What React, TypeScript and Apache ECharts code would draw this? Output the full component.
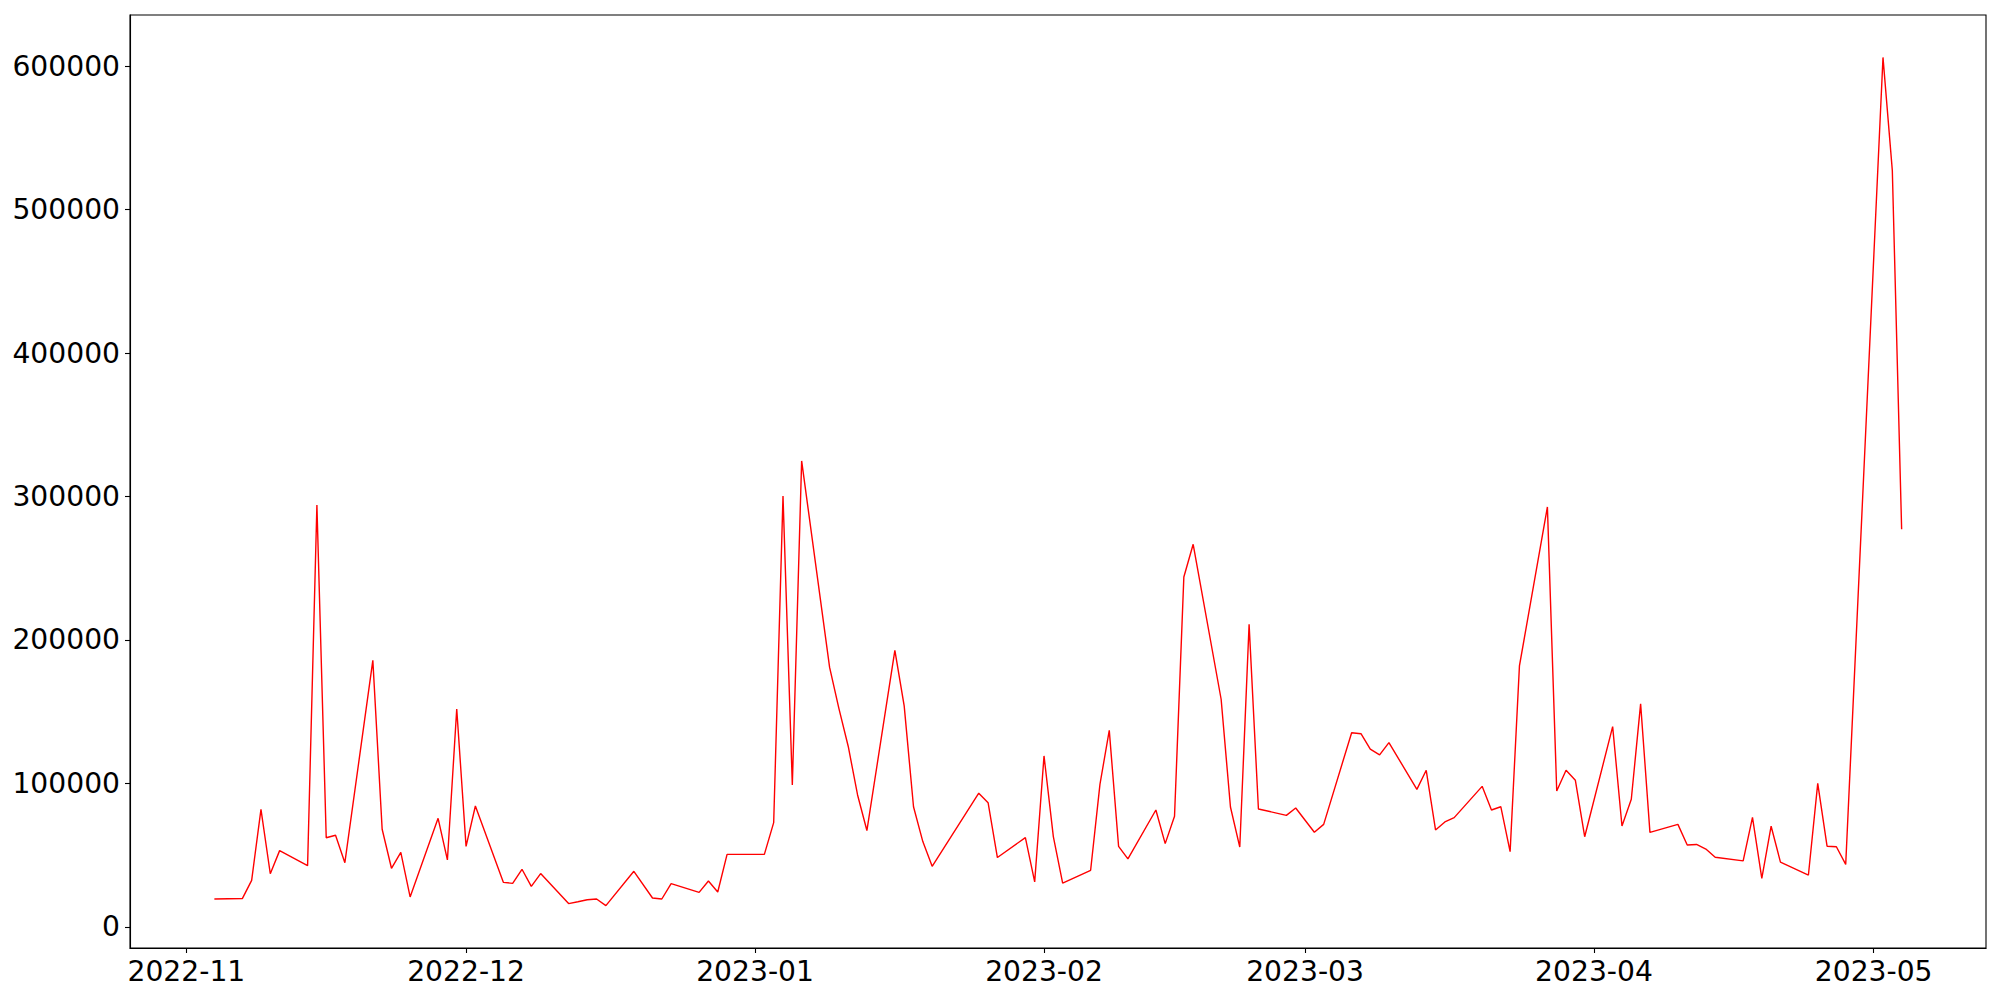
import React, { useEffect, useRef } from "react";
import * as echarts from "echarts";

const dates: string[] = [
  "2022-11-04", "2022-11-07", "2022-11-08", "2022-11-09", "2022-11-10", "2022-11-11",
  "2022-11-14", "2022-11-15", "2022-11-16", "2022-11-17", "2022-11-18",
  "2022-11-21", "2022-11-22", "2022-11-23", "2022-11-24", "2022-11-25",
  "2022-11-28", "2022-11-29", "2022-11-30", "2022-12-01", "2022-12-02",
  "2022-12-05", "2022-12-06", "2022-12-07", "2022-12-08", "2022-12-09",
  "2022-12-12", "2022-12-13", "2022-12-14", "2022-12-15", "2022-12-16",
  "2022-12-19", "2022-12-21", "2022-12-22", "2022-12-23",
  "2022-12-26", "2022-12-27", "2022-12-28", "2022-12-29",
  "2023-01-02", "2023-01-03", "2023-01-04", "2023-01-05", "2023-01-06",
  "2023-01-09", "2023-01-10", "2023-01-11", "2023-01-12", "2023-01-13",
  "2023-01-16", "2023-01-17", "2023-01-18", "2023-01-19", "2023-01-20",
  "2023-01-25", "2023-01-26", "2023-01-27", "2023-01-30", "2023-01-31",
  "2023-02-01", "2023-02-02", "2023-02-03",
  "2023-02-06", "2023-02-07", "2023-02-08", "2023-02-09", "2023-02-10",
  "2023-02-13", "2023-02-14", "2023-02-15", "2023-02-16", "2023-02-17",
  "2023-02-20", "2023-02-21", "2023-02-22", "2023-02-23", "2023-02-24",
  "2023-02-27", "2023-02-28", "2023-03-02", "2023-03-03",
  "2023-03-06", "2023-03-07", "2023-03-08", "2023-03-09", "2023-03-10",
  "2023-03-13", "2023-03-14", "2023-03-15", "2023-03-16", "2023-03-17",
  "2023-03-20", "2023-03-21", "2023-03-22", "2023-03-23", "2023-03-24",
  "2023-03-27", "2023-03-28", "2023-03-29", "2023-03-30", "2023-03-31",
  "2023-04-03", "2023-04-04", "2023-04-05", "2023-04-06", "2023-04-07",
  "2023-04-10", "2023-04-11", "2023-04-12", "2023-04-13", "2023-04-14",
  "2023-04-17", "2023-04-18", "2023-04-19", "2023-04-20", "2023-04-21",
  "2023-04-24", "2023-04-25", "2023-04-26", "2023-04-27", "2023-04-28",
  "2023-05-02", "2023-05-03", "2023-05-04",
];

const values: number[] = [
  19500, 19800, 32500, 82000, 37100, 53200,
  42700, 294000, 62200, 63900, 44800,
  185800, 68100, 40900, 52000, 20900,
  75700, 46700, 151900, 56200, 84300,
  31100, 30400, 40200, 28300, 37200,
  16300, 17600, 19000, 19500, 14900,
  38800, 20200, 19500, 30200,
  24100, 32000, 24400, 50600,
  50600, 72700, 300300, 98900, 324800,
  180900, 152200, 125800, 92000, 67200,
  192700, 154100, 83800, 59500, 42300,
  93200, 86600, 48400, 62300, 31400,
  119200, 63000, 30600,
  39500, 99400, 137000, 56200, 47400,
  81500, 58100, 77100, 243900, 266700,
  158700, 83600, 55700, 210900, 82200,
  77800, 82900, 66000, 71500,
  135400, 134700, 124000, 119900, 128500,
  95900, 109200, 67600, 73200, 76200,
  98000, 81500, 83800, 52500, 181900,
  292700, 94800, 109200, 102200, 62900,
  139600, 70400, 89000, 155500, 65900,
  71500, 57100, 57500, 54300, 48600,
  46100, 76400, 33800, 70200, 45200,
  36200, 100100, 56300, 55900, 43600,
  606000, 527300, 277100,
];

const monthTicks: string[] = [
  "2022-11-01", "2022-12-01", "2023-01-01", "2023-02-01",
  "2023-03-01", "2023-04-01", "2023-05-01",
];

const yTicks: number[] = [0, 100000, 200000, 300000, 400000, 500000, 600000];

function toTs(s: string): number {
  const [y, m, d] = s.split("-").map(Number);
  return new Date(y, m - 1, d).getTime();
}

function fmtMonth(v: number): string {
  const d = new Date(v);
  const m = d.getMonth() + 1;
  return d.getFullYear() + "-" + (m < 10 ? "0" + m : "" + m);
}

export default function App() {
  const ref = useRef<HTMLDivElement>(null);

  useEffect(() => {
    if (!ref.current) return;
    const chart = echarts.init(ref.current, undefined, { renderer: "svg" });

    const ts = dates.map(toTs);
    const xMinD = Math.min(...ts);
    const xMaxD = Math.max(...ts);
    const xPad = (xMaxD - xMinD) * 0.05;
    const yMinD = Math.min(...values);
    const yMaxD = Math.max(...values);
    const yPad = (yMaxD - yMinD) * 0.05;

    const font = "DejaVu Sans";
    const fs = 28.2;
    const monthTs = monthTicks.map(toTs);

    chart.setOption({
      animation: false,
      backgroundColor: "#ffffff",
      grid: {
        left: 130,
        right: 14,
        top: 15,
        bottom: 52,
        show: true,
        borderColor: "#000000",
        borderWidth: 1.1,
        backgroundColor: "transparent",
        outerBoundsMode: "none",
        containLabel: false,
      },
      xAxis: {
        type: "value",
        min: xMinD - xPad,
        max: xMaxD + xPad,
        scale: true,
        axisLine: { show: true, onZero: false, lineStyle: { color: "#000000", width: 1.1 } },
        axisTick: {
          show: true,
          inside: false,
          length: 5,
          lineStyle: { color: "#000000", width: 1.1 },
          customValues: monthTs,
        },
        axisLabel: {
          show: true,
          margin: 9,
          color: "#000000",
          fontFamily: font,
          fontSize: fs,
          customValues: monthTs,
          formatter: (v: number) => fmtMonth(v),
          hideOverlap: false,
          showMinLabel: true,
          showMaxLabel: true,
        },
        splitLine: { show: false },
      },
      yAxis: {
        type: "value",
        min: yMinD - yPad,
        max: yMaxD + yPad,
        axisLine: { show: true, onZero: false, lineStyle: { color: "#000000", width: 1.1 } },
        axisTick: {
          show: true,
          inside: false,
          length: 5,
          lineStyle: { color: "#000000", width: 1.1 },
          customValues: yTicks,
        },
        axisLabel: {
          show: true,
          margin: 10,
          color: "#000000",
          fontFamily: font,
          fontSize: fs,
          customValues: yTicks,
          formatter: (v: number) => String(Math.round(v)),
        },
        splitLine: { show: false },
      },
      series: [
        {
          type: "line",
          data: ts.map((t, i) => [t, values[i]]),
          showSymbol: false,
          symbol: "none",
          lineStyle: { color: "#ff0000", width: 1.4 },
          itemStyle: { color: "#ff0000" },
          silent: true,
        },
      ],
    });

    return () => {
      chart.dispose();
    };
  }, []);

  return (
    <div
      ref={ref}
      style={{ position: "absolute", left: 0, top: 0, width: 2000, height: 1000 }}
    />
  );
}
